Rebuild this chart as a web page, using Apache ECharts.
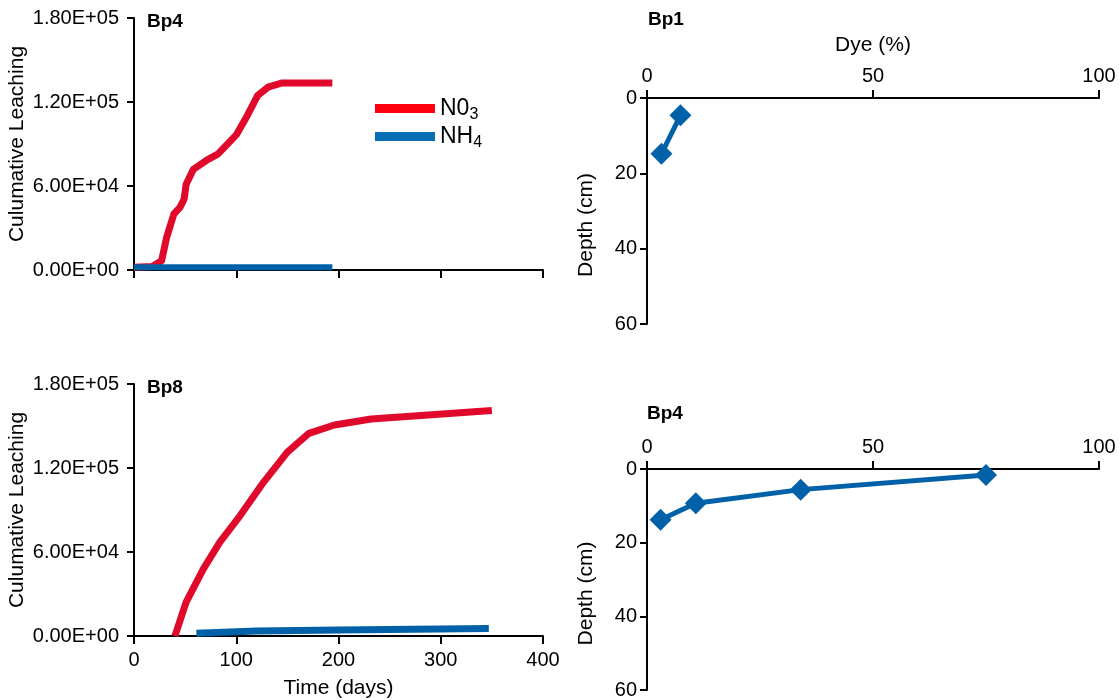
<!DOCTYPE html>
<html>
<head>
<meta charset="utf-8">
<script src="https://cdn.jsdelivr.net/npm/echarts@6/dist/echarts.min.js"></script>
<style>
html,body{margin:0;padding:0;background:#fff;}
#c{width:1119px;height:700px;}
</style>
</head>
<body>
<div id="c"></div>
<script>
// ---- data ----
const leachTickLabels = ['0.00E+00', '6.00E+04', '1.20E+05', '1.80E+05'];
const timeTickLabels = ['0', '100', '200', '300', '400'];

// Bp4 cumulative leaching (top-left)
const bp4No3Days = [0, 18, 27, 32, 39, 45, 49, 51, 58, 72, 82, 100, 111, 121, 131, 145, 194];
const bp4No3 = [2000, 2500, 6600, 23500, 40000, 44700, 50600, 61200, 71800, 78900, 82800, 96500, 110600, 124700, 130600, 133600, 133600];
const bp4Nh4Days = [0, 194];
const bp4Nh4 = [2000, 2000];

// Bp8 cumulative leaching (bottom-left)
const bp8No3Days = [40, 51, 68, 84, 104, 127, 150, 171, 196, 232, 350];
const bp8No3 = [0, 24200, 48100, 67100, 86200, 110100, 131300, 144700, 150700, 155000, 161000];
const bp8Nh4Days = [61, 120, 200, 347];
const bp8Nh4 = [2000, 3500, 4300, 5300];

// Dye profiles
const bp1Dye = [7.4, 3.2];
const bp1Depth = [4.6, 14.8];
const bp4Dye = [3, 10.8, 34, 75];
const bp4Depth = [13.8, 9.3, 5.6, 1.6];

const pairs = (xs, ys) => xs.map((x, i) => [x, ys[i]]);

const FONT = 'Liberation Sans, Arial, sans-serif';
const RED = '#e0092b';
const BLUE = '#0061a8';
const axisLine = { show: true, onZero: false, lineStyle: { color: '#000', width: 2 } };
const axisTick = { show: true, inside: false, length: 8, lineStyle: { color: '#000', width: 2 } };
const tickFont = { color: '#000', fontSize: 20, fontFamily: FONT };
const nameFont = { color: '#000', fontSize: 21, fontFamily: FONT };

const grids = [
  { left: 134, top: 18, width: 409, height: 252 },
  { left: 134, top: 384, width: 409, height: 252 },
  { left: 647, top: 98, width: 452, height: 226 },
  { left: 647, top: 469, width: 452, height: 225 }
];

function leachX(gi, showLabels) {
  return {
    type: 'value', gridIndex: gi, min: 0, max: 400, interval: 100,
    axisLine, axisTick, splitLine: { show: false },
    axisLabel: Object.assign({ show: showLabels, margin: 14,
      formatter: v => timeTickLabels[Math.round(v / 100)] }, tickFont),
    name: showLabels ? 'Time (days)' : '', nameLocation: 'middle', nameGap: 42,
    nameTextStyle: nameFont
  };
}
function leachY(gi) {
  return {
    type: 'value', gridIndex: gi, min: 0, max: 180000, interval: 60000,
    axisLine, axisTick: Object.assign({}, axisTick, { length: 7 }), splitLine: { show: false },
    axisLabel: Object.assign({ margin: 15, formatter: v => leachTickLabels[Math.round(v / 60000)] }, tickFont),
    name: 'Culumative Leaching', nameLocation: 'middle', nameGap: 106,
    nameTextStyle: nameFont
  };
}
function dyeX(gi, showName) {
  return {
    type: 'value', gridIndex: gi, position: 'top', min: 0, max: 100, interval: 50,
    axisLine, axisTick, splitLine: { show: false },
    axisLabel: Object.assign({ margin: 12 }, tickFont),
    name: showName ? 'Dye (%)' : '', nameLocation: 'middle', nameGap: 42,
    nameTextStyle: nameFont
  };
}
function dyeY(gi) {
  return {
    type: 'value', gridIndex: gi, inverse: true, min: 0, max: 60, interval: 20,
    axisLine, axisTick: Object.assign({}, axisTick, { length: 7 }), splitLine: { show: false },
    axisLabel: Object.assign({ margin: 10 }, tickFont),
    name: 'Depth (cm)', nameLocation: 'middle', nameGap: 50,
    nameTextStyle: Object.assign({ padding: [0, 28, 0, 0] }, nameFont)
  };
}

function leachLine(name, xi, data, color, width) {
  return {
    type: 'line', name, xAxisIndex: xi, yAxisIndex: xi, data,
    showSymbol: false, symbol: 'none', clip: true,
    lineStyle: { color, width, cap: 'butt', join: 'round' },
    itemStyle: { color }
  };
}
function dyeLine(name, xi, data) {
  return {
    type: 'line', name, xAxisIndex: xi, yAxisIndex: xi, data,
    symbol: 'diamond', symbolSize: 22,
    lineStyle: { color: BLUE, width: 5 },
    itemStyle: { color: BLUE }
  };
}

const titleStyle = { color: '#000', fontSize: 19, fontWeight: 'bold', fontFamily: FONT };

const option = {
  animation: false,
  backgroundColor: '#fff',
  title: [
    { text: 'Bp4', left: 147, top: 12, textStyle: titleStyle, padding: 0 },
    { text: 'Bp8', left: 147, top: 378, textStyle: titleStyle, padding: 0 },
    { text: 'Bp1', left: 648, top: 10, textStyle: titleStyle, padding: 0 },
    { text: 'Bp4', left: 647, top: 404, textStyle: titleStyle, padding: 0 }
  ],
  legend: {
    left: 370, top: 92, orient: 'vertical', itemWidth: 60, itemHeight: 9, itemGap: 2,
    icon: 'rect', selectedMode: false,
    data: [
      { name: 'NO3', itemStyle: { color: '#ff0010' } },
      { name: 'NH4', itemStyle: { color: '#0a6eb4' } }
    ],
    formatter: n => n === 'NO3' ? '{m|N0}{s|3}' : '{m|NH}{s|4}',
    textStyle: {
      color: '#000', fontFamily: FONT,
      rich: {
        m: { fontSize: 23, fontFamily: FONT, color: '#000', lineHeight: 23 },
        s: { fontSize: 16, fontFamily: FONT, color: '#000', padding: [13, 0, 0, 0] }
      }
    }
  },
  grid: grids,
  xAxis: [leachX(0, false), leachX(1, true), dyeX(2, true), dyeX(3, false)],
  yAxis: [leachY(0), leachY(1), dyeY(2), dyeY(3)],
  series: [
    leachLine('NO3', 0, pairs(bp4No3Days, bp4No3), RED, 7),
    leachLine('NH4', 0, pairs(bp4Nh4Days, bp4Nh4), BLUE, 6),
    leachLine('NO3', 1, pairs(bp8No3Days, bp8No3), RED, 7),
    leachLine('NH4', 1, pairs(bp8Nh4Days, bp8Nh4), BLUE, 7),
    dyeLine('Bp1 dye', 2, pairs(bp1Dye, bp1Depth)),
    dyeLine('Bp4 dye', 3, pairs(bp4Dye, bp4Depth))
  ]
};

const chart = echarts.init(document.getElementById('c'), null, { renderer: 'canvas' });
chart.setOption(option);
</script>
</body>
</html>
